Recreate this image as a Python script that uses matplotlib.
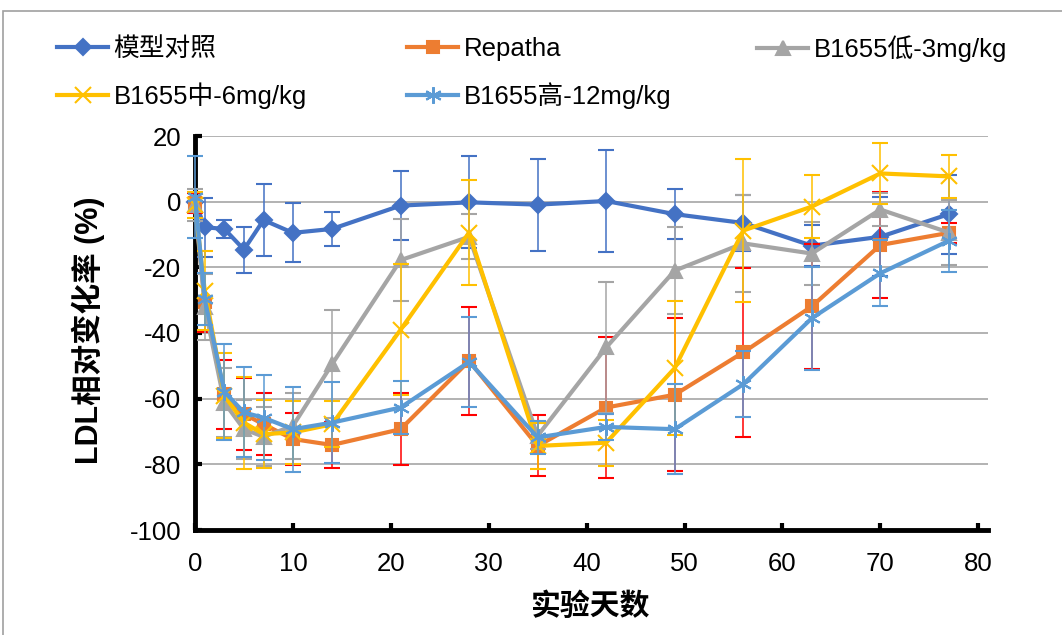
import matplotlib
matplotlib.use('Agg')
import matplotlib.pyplot as plt
from matplotlib.patches import Rectangle
from matplotlib.lines import Line2D

plt.rcParams['font.family'] = ['Liberation Sans', 'Noto Sans CJK SC']
plt.rcParams['axes.unicode_minus'] = False

days = [0, 1, 3, 5, 7, 10, 14, 21, 28, 35, 42, 49, 56, 63, 70, 77]

names = ['模型对照', 'Repatha', 'B1655低-3mg/kg', 'B1655中-6mg/kg', 'B1655高-12mg/kg']

model = [0, -7.8, -8.3, -14.6, -5.6, -9.5, -8.3, -1.2, -0.2, -0.9, 0.2, -3.8, -6.5, -13.4, -10.7, -3.8]
model_err = [0, 9, 2.7, 7, 11, 9, 5.3, 10.6, 14, 14, 15.4, 7.7, 8.5, 6.3, 12, 12]

repatha = [-0.5, -30.7, -58.6, -64.7, -67.8, -72.3, -74.1, -69.3, -48.5, -74.4, -62.7, -58.8, -45.9, -31.9, -13.2, -9.5]
repatha_err = [3, 9, 10.5, 11, 9.5, 8, 7, 11, 16.5, 9.3, 21.5, 23.3, 25.8, 19, 16, 3]

low = [-1, -32, -61.2, -69.3, -71.6, -68.3, -49.5, -17.8, -10.7, -71.3, -44.4, -21, -12.7, -15.8, -2.4, -9.4]
low_err = [5, 10, 10.5, 9, 9, 10, 16.5, 12.4, 6.8, 4, 20, 13.3, 14.8, 9.6, 5, 10]

mid = [-1, -27.1, -59.1, -67.3, -70.8, -70.3, -67.8, -39, -9.4, -74.4, -73.4, -50.7, -8.8, -1.5, 8.6, 7.7]
mid_err = [4, 12, 13, 14, 10.4, 9.5, 7, 20, 16, 7, 7, 20.5, 21.8, 9.6, 9.2, 6.5]

high = [1.5, -29.7, -57.9, -64.2, -65.8, -69.3, -67.3, -62.7, -48.8, -71.8, -68.6, -69.3, -55.6, -35.5, -21.8, -11.9]
high_err = [12.5, 8, 14.7, 13.7, 13, 13, 12.3, 8, 13.7, 5, 4, 13.7, 10, 15.7, 10, 9.4]

series = [model, repatha, low, mid, high]
errors = [model_err, repatha_err, low_err, mid_err, high_err]
colors = ['#4472C4', '#ED7D31', '#A5A5A5', '#FFC000', '#5B9BD5']
err_colors = ['#4472C4', '#FF0000', '#A5A5A5', '#FFC000', '#5B9BD5']
markers = ['D', 's', '^', 'x', (6, 2, 0)]
msizes = [8, 9, 10, 11, 12]

W, H = 1062, 635
fig = plt.figure(figsize=(W / 100, H / 100), dpi=100)
ax = fig.add_axes([195 / W, 1 - 530 / H, (988 - 195) / W, (530 - 136) / H])

for i, (y, e) in enumerate(zip(series, errors)):
    ax.errorbar(days, y, yerr=e, color=colors[i], ecolor=err_colors[i],
                elinewidth=1.1, capsize=6, capthick=1.1, lw=3,
                marker=markers[i], ms=msizes[i], mew=1.5,
                mfc=colors[i], mec=colors[i], zorder=3 + i, clip_on=False)

ax.set_xlim(0, 81)
ax.set_ylim(-100, 20)
ax.set_xticks(range(0, 81, 10))
ax.set_yticks(range(-100, 21, 20))
ax.yaxis.grid(True, color='#A6A6A6', lw=1.2)
ax.set_axisbelow(True)
for s in ['top', 'right']:
    ax.spines[s].set_visible(False)
for s in ['left', 'bottom']:
    ax.spines[s].set_linewidth(3.5)
    ax.spines[s].set_color('black')
ax.tick_params(axis='both', direction='in', length=5, width=3, labelsize=18.5)
ax.tick_params(axis='x', pad=16)
ax.tick_params(axis='y', pad=10)

fig.text(591 / W, 1 - 607 / H, '实验天数', ha='center', va='center',
         fontsize=21.5, fontweight='bold')
fig.text(88 / W, 1 - 330 / H, 'LDL相对变化率 (%)', ha='center', va='center',
         rotation=90, fontsize=22, fontweight='bold')

# legend entries placed one by one, row-wise like the original
pos = [(57, 49), (407, 49), (757, 49), (57, 96), (407, 96)]
for i in range(5):
    h = Line2D([], [], color=colors[i], lw=3, marker=markers[i],
               ms=msizes[i], mfc=colors[i], mec=colors[i], mew=1.5)
    leg = fig.legend([h], [names[i]], loc='center left',
                     bbox_to_anchor=(pos[i][0] / W, 1 - pos[i][1] / H),
                     frameon=False, fontsize=18.5, handlelength=2.0,
                     handletextpad=0.2, borderpad=0, borderaxespad=0)

fig.patches.append(Rectangle((3 / W, -0.1), 1.2, 1.1 - 11 / H,
                             transform=fig.transFigure, fill=False,
                             edgecolor='#A0A0A0', lw=1.2))

fig.savefig('out.png', dpi=100)
